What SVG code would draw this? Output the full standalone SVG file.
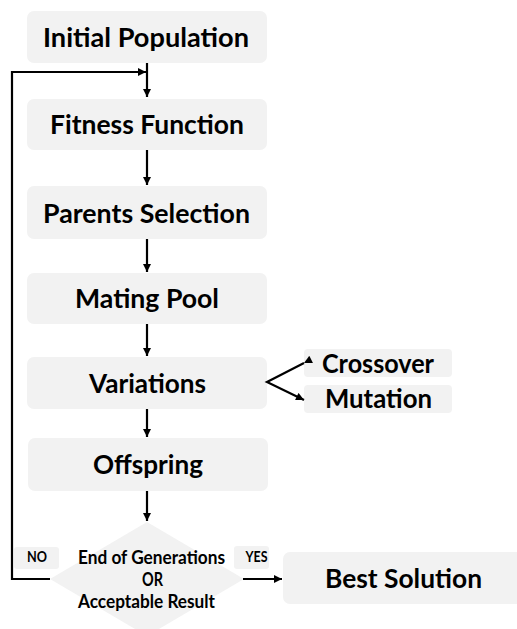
<svg xmlns="http://www.w3.org/2000/svg" width="517" height="629" viewBox="0 0 517 629">
<style>
.box{fill:#f2f2f2;}
.t{font-family:Lato,"Liberation Sans",sans-serif;font-weight:700;fill:#000;}
.m{font-size:27px;text-anchor:middle;}
.b{font-size:26px;text-anchor:middle;}
.d{font-size:19px;}
.s{font-size:15px;text-anchor:middle;}
.c{stroke:#000;stroke-width:2.2;fill:none;}
</style>
<defs>
<marker id="ah" viewBox="0 0 10 10" refX="10" refY="5" markerWidth="10" markerHeight="8" markerUnits="userSpaceOnUse" orient="auto">
<path d="M0,0 L10,5 L0,10 z" fill="#000"/>
</marker>
</defs>
<rect width="517" height="629" fill="#fff"/>
<g id="initial-population"><rect class="box" x="27" y="11" width="240" height="52" rx="7"/><text class="t m" x="146" y="47" textLength="206" lengthAdjust="spacingAndGlyphs">Initial Population</text></g>
<g id="fitness-function"><rect class="box" x="27" y="99" width="240" height="51" rx="7"/><text class="t m" x="147" y="134" textLength="194" lengthAdjust="spacingAndGlyphs">Fitness Function</text></g>
<g id="parents-selection"><rect class="box" x="27" y="186" width="240" height="53" rx="7"/><text class="t m" x="146.5" y="223" textLength="207" lengthAdjust="spacingAndGlyphs">Parents Selection</text></g>
<g id="mating-pool"><rect class="box" x="27" y="273" width="240" height="51" rx="7"/><text class="t m" x="147" y="308" textLength="144" lengthAdjust="spacingAndGlyphs">Mating Pool</text></g>
<g id="variations"><rect class="box" x="27" y="357" width="240" height="52" rx="7"/><text class="t m" x="147.5" y="393" textLength="117" lengthAdjust="spacingAndGlyphs">Variations</text></g>
<g id="crossover"><rect class="box" x="304" y="349" width="148" height="28" rx="4"/><text class="t m" x="378" y="373" textLength="112" lengthAdjust="spacingAndGlyphs">Crossover</text></g>
<g id="mutation"><rect class="box" x="304" y="385" width="148" height="28" rx="4"/><text class="t m" x="378.5" y="408" textLength="107" lengthAdjust="spacingAndGlyphs">Mutation</text></g>
<g id="offspring"><rect class="box" x="28" y="438" width="240" height="53" rx="7"/><text class="t m" x="148" y="474" textLength="110" lengthAdjust="spacingAndGlyphs">Offspring</text></g>
<g id="decision"><polygon class="box" points="147,522 244,579 147,636 50,579"/>
<text class="t d" x="78" y="564" textLength="147" lengthAdjust="spacingAndGlyphs">End of Generations</text>
<text class="t d" x="142" y="586" textLength="21" lengthAdjust="spacingAndGlyphs">OR</text>
<text class="t d" x="78" y="608" textLength="137" lengthAdjust="spacingAndGlyphs">Acceptable Result</text></g>
<g id="label-no"><rect class="box" x="14" y="547" width="45" height="22" rx="3"/><text class="t s" x="37" y="562" textLength="20" lengthAdjust="spacingAndGlyphs">NO</text></g>
<g id="label-yes"><rect class="box" x="234" y="546" width="35" height="23" rx="3"/><text class="t s" x="256.5" y="562" textLength="22" lengthAdjust="spacingAndGlyphs">YES</text></g>
<g id="best-solution"><rect class="box" x="283" y="552" width="245" height="52" rx="7"/><text class="t b" x="403.5" y="588" textLength="157" lengthAdjust="spacingAndGlyphs">Best Solution</text></g>
<g id="connectors">
<line class="c" x1="147" y1="63" x2="147" y2="97" marker-end="url(#ah)"/>
<line class="c" x1="147" y1="150" x2="147" y2="185" marker-end="url(#ah)"/>
<line class="c" x1="147" y1="239" x2="147" y2="272" marker-end="url(#ah)"/>
<line class="c" x1="147" y1="324" x2="147" y2="356" marker-end="url(#ah)"/>
<line class="c" x1="147" y1="409" x2="147" y2="437" marker-end="url(#ah)"/>
<line class="c" x1="147" y1="491" x2="147" y2="521" marker-end="url(#ah)"/>
<polyline class="c" points="304,363 267,382 304,400" marker-start="url(#ah)" marker-end="url(#ah)"/>
<line class="c" x1="243" y1="579" x2="282" y2="579" marker-end="url(#ah)"/>
<polyline class="c" points="50,579 12,579 12,72 146,72" marker-end="url(#ah)"/>
</g>
</svg>
